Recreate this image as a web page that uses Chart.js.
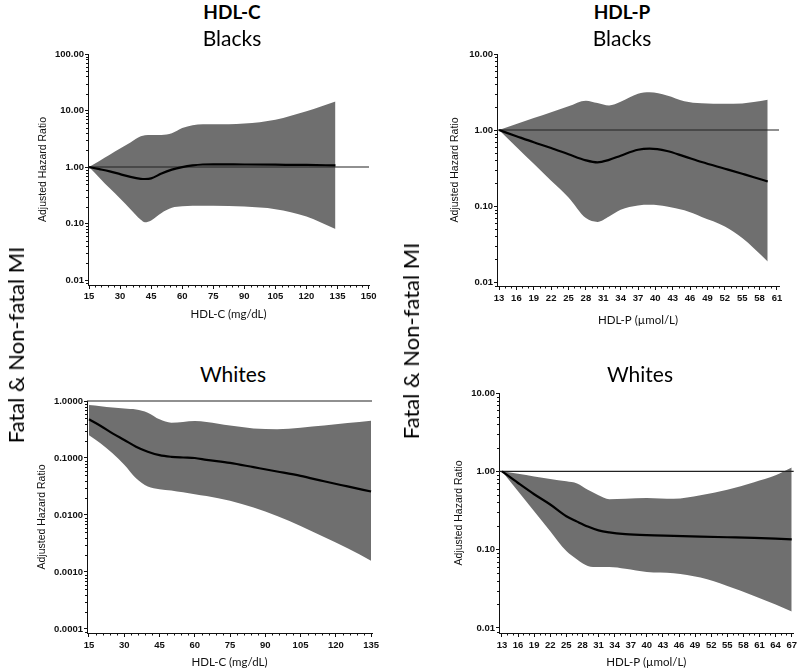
<!DOCTYPE html>
<html><head><meta charset="utf-8">
<script src="https://cdn.jsdelivr.net/npm/chart.js@4.4.1/dist/chart.umd.min.js"></script>
<style>
html,body{margin:0;padding:0;background:#fff;}
#wrap{position:relative;width:800px;height:671px;overflow:hidden;background:#fff;}
canvas{position:absolute;}
.t{position:absolute;font-family:Lato,'Open Sans',sans-serif;color:#000;white-space:nowrap;transform:translate(-50%,-50%);line-height:1;z-index:2;}
.rot{position:absolute;font-family:Lato,'Open Sans',sans-serif;font-size:22px;color:#000;white-space:nowrap;transform:translate(-50%,-50%) rotate(-90deg);line-height:1;z-index:2;}
</style></head><body>
<div id="wrap">
  <canvas id="c1"></canvas>
  <canvas id="c2"></canvas>
  <canvas id="c3"></canvas>
  <canvas id="c4"></canvas>
  <div class="t" style="left:232px;top:11px;font-size:19px;font-weight:bold">HDL-C</div>
  <div class="t" style="left:622px;top:11px;font-size:19px;font-weight:bold">HDL-P</div>
  <div class="t" style="left:232px;top:37px;font-size:21px">Blacks</div>
  <div class="t" style="left:622px;top:37px;font-size:21px">Blacks</div>
  <div class="t" style="left:233px;top:373px;font-size:21px">Whites</div>
  <div class="t" style="left:640px;top:373px;font-size:21px">Whites</div>
  <div class="rot" style="left:16px;top:345px">Fatal &amp; Non-fatal MI</div>
  <div class="rot" style="left:411px;top:341px">Fatal &amp; Non-fatal MI</div>
</div>
<script>
// ---------- DATA ----------
// HDL-C, Blacks
const bcX   = [15, 20, 25, 30, 35, 40, 42, 45, 50, 55, 60, 65, 70, 75, 90, 105, 120, 134];
const bcMid = [1.0, 0.92, 0.84, 0.75, 0.67, 0.62, 0.615, 0.63, 0.77, 0.90, 1.0, 1.07, 1.11, 1.12, 1.11, 1.10, 1.09, 1.07];
const bcLo  = [1.0, 0.65, 0.42, 0.277, 0.18, 0.117, 0.106, 0.114, 0.154, 0.19, 0.202, 0.206, 0.207, 0.207, 0.20, 0.18, 0.134, 0.08];
const bcHi  = [1.0, 1.28, 1.65, 2.12, 2.72, 3.5, 3.65, 3.7, 3.7, 3.97, 4.9, 5.5, 5.7, 5.7, 5.9, 6.9, 9.7, 14.5];
const bcXTicks = ['15','30','45','60','75','90','105','120','135','150'];
const bcYTicks = ['0.01','0.10','1.00','10.00','100.00'];

// HDL-P, Blacks
const bpX   = [13, 16, 19, 22, 25, 28, 30, 32, 34, 37, 39, 42, 45, 48, 52, 55, 57, 59.4];
const bpMid = [1.0, 0.83, 0.69, 0.58, 0.48, 0.40, 0.376, 0.405, 0.46, 0.55, 0.57, 0.53, 0.45, 0.38, 0.31, 0.266, 0.24, 0.211];
const bpLo  = [1.0, 0.60, 0.36, 0.215, 0.13, 0.0695, 0.062, 0.073, 0.0895, 0.102, 0.104, 0.099, 0.088, 0.072, 0.054, 0.038, 0.028, 0.0187];
const bpHi  = [1.0, 1.2, 1.44, 1.72, 2.05, 2.43, 2.26, 2.1, 2.35, 3.0, 3.13, 2.85, 2.4, 2.25, 2.22, 2.24, 2.33, 2.5];
const bpXTicks = ['13','16','19','22','25','28','31','34','37','40','43','46','49','52','55','58','61'];
const bpYTicks = ['0.01','0.10','1.00','10.00'];

// HDL-C, Whites
const wcX   = [15, 20, 25, 30, 35, 40, 45, 50, 55, 60, 65, 75, 85, 95, 105, 115, 125, 135];
const wcMid = [0.477, 0.365, 0.27, 0.207, 0.158, 0.129, 0.112, 0.105, 0.102, 0.100, 0.093, 0.082, 0.069, 0.058, 0.0485, 0.039, 0.0317, 0.0258];
const wcLo  = [0.25, 0.18, 0.121, 0.076, 0.044, 0.0316, 0.0284, 0.0269, 0.025, 0.0232, 0.0215, 0.0178, 0.0135, 0.0096, 0.0064, 0.0041, 0.0026, 0.00158];
const wcHi  = [0.85, 0.81, 0.77, 0.74, 0.71, 0.625, 0.477, 0.417, 0.43, 0.446, 0.43, 0.37, 0.33, 0.32, 0.34, 0.37, 0.41, 0.45];
const wcXTicks = ['15','30','45','60','75','90','105','120','135'];
const wcYTicks = ['0.0001','0.0010','0.0100','0.1000','1.0000'];

// HDL-P, Whites
const wpX   = [13, 16, 19, 22, 25, 27, 29, 31, 33, 36, 40, 45, 50, 55, 60, 64, 67];
const wpMid = [1.0, 0.71, 0.51, 0.377, 0.267, 0.228, 0.197, 0.176, 0.166, 0.158, 0.153, 0.150, 0.147, 0.144, 0.141, 0.138, 0.135];
const wpLo  = [1.0, 0.556, 0.31, 0.172, 0.096, 0.075, 0.062, 0.06, 0.06, 0.057, 0.052, 0.050, 0.044, 0.0344, 0.0257, 0.020, 0.0162];
const wpHi  = [1.0, 0.93, 0.86, 0.80, 0.746, 0.70, 0.58, 0.495, 0.44, 0.446, 0.458, 0.446, 0.495, 0.58, 0.725, 0.89, 1.12];
const wpXTicks = ['13','16','19','22','25','28','31','34','37','40','43','46','49','52','55','58','61','64','67'];
const wpYTicks = ['0.01','0.10','1.00','10.00'];

const refValue = 1;

// ---------- RENDERING ----------
const BAND = 'rgb(111,111,111)';
const TICKFONT = {family: "'Liberation Sans', Arial, sans-serif", size: 9.5, weight: 'bold'};
const YTITLEFONT = {family: "'Liberation Sans', Arial, sans-serif", size: 10.5};
const XTITLEFONT = {family: "Lato, 'Open Sans', sans-serif", size: 11.5};

const minorTicks = {
  id: 'minorTicks',
  afterDraw(chart, args, opts) {
    const ctx = chart.ctx, xs = chart.scales.x, ys = chart.scales.y;
    ctx.save();
    ctx.strokeStyle = '#111';
    ctx.lineWidth = 1;
    ctx.beginPath();
    (opts.x || []).forEach(v => {
      if (v < xs.min || v > xs.max) return;
      const px = Math.round(xs.getPixelForValue(v)) + 0.5;
      ctx.moveTo(px, ys.bottom); ctx.lineTo(px, ys.bottom + 2.5);
    });
    (opts.y || []).forEach(v => {
      if (v < ys.min || v > ys.max) return;
      const py = Math.round(ys.getPixelForValue(v)) + 0.5;
      ctx.moveTo(xs.left, py); ctx.lineTo(xs.left - 2, py);
    });
    ctx.stroke();
    ctx.restore();
  }
};

function logMinors(min, max) {
  const out = [];
  for (let e = Math.floor(Math.log10(min)); e <= Math.ceil(Math.log10(max)); e++) {
    for (let m = 2; m <= 9; m++) {
      const v = m * Math.pow(10, e);
      if (v > min && v < max) out.push(v);
    }
  }
  return out;
}
function linMinors(first, last, step, majors) {
  const out = [];
  for (let v = first; v <= last + 1e-9; v += step) {
    if (!majors.some(m => Math.abs(m - v) < 1e-6)) out.push(v);
  }
  return out;
}
const pts = (xs, ys) => xs.map((x, i) => ({x, y: ys[i]}));

function makePanel(p) {
  const cv = document.getElementById(p.id);
  cv.width = p.box.w; cv.height = p.box.h;
  cv.style.left = p.box.x + 'px'; cv.style.top = p.box.y + 'px';
  cv.style.width = p.box.w + 'px'; cv.style.height = p.box.h + 'px';
  const xVals = p.xTicks.map(Number), yVals = p.yTicks.map(Number);
  const boxBottom = p.box.y + p.box.h;
  const xTitleLH = XTITLEFONT.size * 1.2, yTitleLH = YTITLEFONT.size * 1.2;
  new Chart(cv, {
    type: 'line',
    data: {datasets: [
      {label: 'Adjusted HR', data: pts(p.x, p.mid), borderColor: '#000', borderWidth: 2.2,
       pointRadius: 0, cubicInterpolationMode: 'monotone', fill: false},
      {label: 'Reference', data: [{x: p.xMin, y: refValue}, {x: p.xMax, y: refValue}], borderColor: '#222',
       borderWidth: 1.1, pointRadius: 0, fill: false, clip: false},
      {label: 'Upper CI', data: pts(p.x, p.hi), borderColor: 'rgba(0,0,0,0)', borderWidth: 0.5,
       backgroundColor: BAND, pointRadius: 0, cubicInterpolationMode: 'monotone', fill: '+1'},
      {label: 'Lower CI', data: pts(p.x, p.lo), borderColor: 'rgba(0,0,0,0)', borderWidth: 0.5,
       pointRadius: 0, cubicInterpolationMode: 'monotone', fill: false}
    ]},
    options: {
      responsive: false, animation: false, events: [],
      layout: {autoPadding: false, padding: {left: 0, top: p.area.t - p.box.y, right: p.box.x + p.box.w - p.area.r, bottom: 0}},
      plugins: {legend: {display: false}, tooltip: {enabled: false},
        minorTicks: {x: linMinors(xVals[0], xVals[xVals.length - 1], p.xMinorStep, xVals), y: logMinors(p.yMin, p.yMax)}},
      scales: {
        x: {
          type: 'linear', min: p.xMin, max: p.xMax,
          afterFit: s => { s.height = boxBottom - p.area.b; },
          afterBuildTicks: s => { s.ticks = xVals.map(v => ({value: v})); },
          ticks: {autoSkip: false, maxRotation: 0, minRotation: 0, padding: p.xTickPad, font: TICKFONT, color: '#111',
                  callback: (v, i) => p.xTicks[i]},
          grid: {drawOnChartArea: false, drawTicks: true, tickLength: 4, tickColor: '#111', tickWidth: 1},
          border: {display: true, color: '#111', width: 1},
          title: {display: true, text: p.xTitle, font: XTITLEFONT, color: '#111',
                  padding: {top: 0, bottom: boxBottom - p.xTitleY - xTitleLH / 2}}
        },
        y: {
          type: 'logarithmic', min: p.yMin, max: p.yMax,
          afterFit: s => { s.width = p.area.l - p.box.x; },
          afterBuildTicks: s => { s.ticks = yVals.map(v => ({value: v})); },
          ticks: {autoSkip: false, padding: 1, font: TICKFONT, color: '#111', callback: (v, i) => p.yTicks[i]},
          grid: {drawOnChartArea: false, drawTicks: true, tickLength: 3, tickColor: '#111', tickWidth: 1},
          border: {display: true, color: '#111', width: 1},
          title: {display: true, text: 'Adjusted Hazard Ratio', font: YTITLEFONT, color: '#111',
                  padding: {top: p.yTitleX - p.box.x - yTitleLH / 2, bottom: 0}}
        }
      }
    },
    plugins: [minorTicks]
  });
}

makePanel({id: 'c1', box: {x: 0, y: 45, w: 400, h: 290}, area: {l: 88, r: 369, t: 54, b: 285},
  x: bcX, mid: bcMid, lo: bcLo, hi: bcHi, xTicks: bcXTicks, yTicks: bcYTicks,
  xMin: 14.5, xMax: 150.2, yMin: 0.0082, yMax: 100, xMinorStep: 3,
  xTitle: 'HDL-C (mg/dL)', xTitleY: 314, yTitleX: 43, xTickPad: 2});

makePanel({id: 'c2', box: {x: 400, y: 45, w: 400, h: 290}, area: {l: 497, r: 779, t: 54, b: 286},
  x: bpX, mid: bpMid, lo: bpLo, hi: bpHi, xTicks: bpXTicks, yTicks: bpYTicks,
  xMin: 12.65, xMax: 61.35, yMin: 0.0089, yMax: 10, xMinorStep: 1,
  xTitle: 'HDL-P (µmol/L)', xTitleY: 320, yTitleX: 455, xTickPad: 3});

makePanel({id: 'c3', box: {x: 0, y: 390, w: 400, h: 281}, area: {l: 87, r: 372, t: 401, b: 633},
  x: wcX, mid: wcMid, lo: wcLo, hi: wcHi, xTicks: wcXTicks, yTicks: wcYTicks,
  xMin: 14.15, xMax: 135.4, yMin: 0.000085, yMax: 1, xMinorStep: 3,
  xTitle: 'HDL-C (mg/dL)', xTitleY: 662, yTitleX: 42, xTickPad: 3});

makePanel({id: 'c4', box: {x: 400, y: 385, w: 400, h: 286}, area: {l: 499, r: 797, t: 393, b: 633},
  x: wpX, mid: wpMid, lo: wpLo, hi: wpHi, xTicks: wpXTicks, yTicks: wpYTicks,
  xMin: 12.45, xMax: 67.37, yMin: 0.00863, yMax: 10, xMinorStep: 1,
  xTitle: 'HDL-P (µmol/L)', xTitleY: 662, yTitleX: 459, xTickPad: 3});
</script>
</body></html>
